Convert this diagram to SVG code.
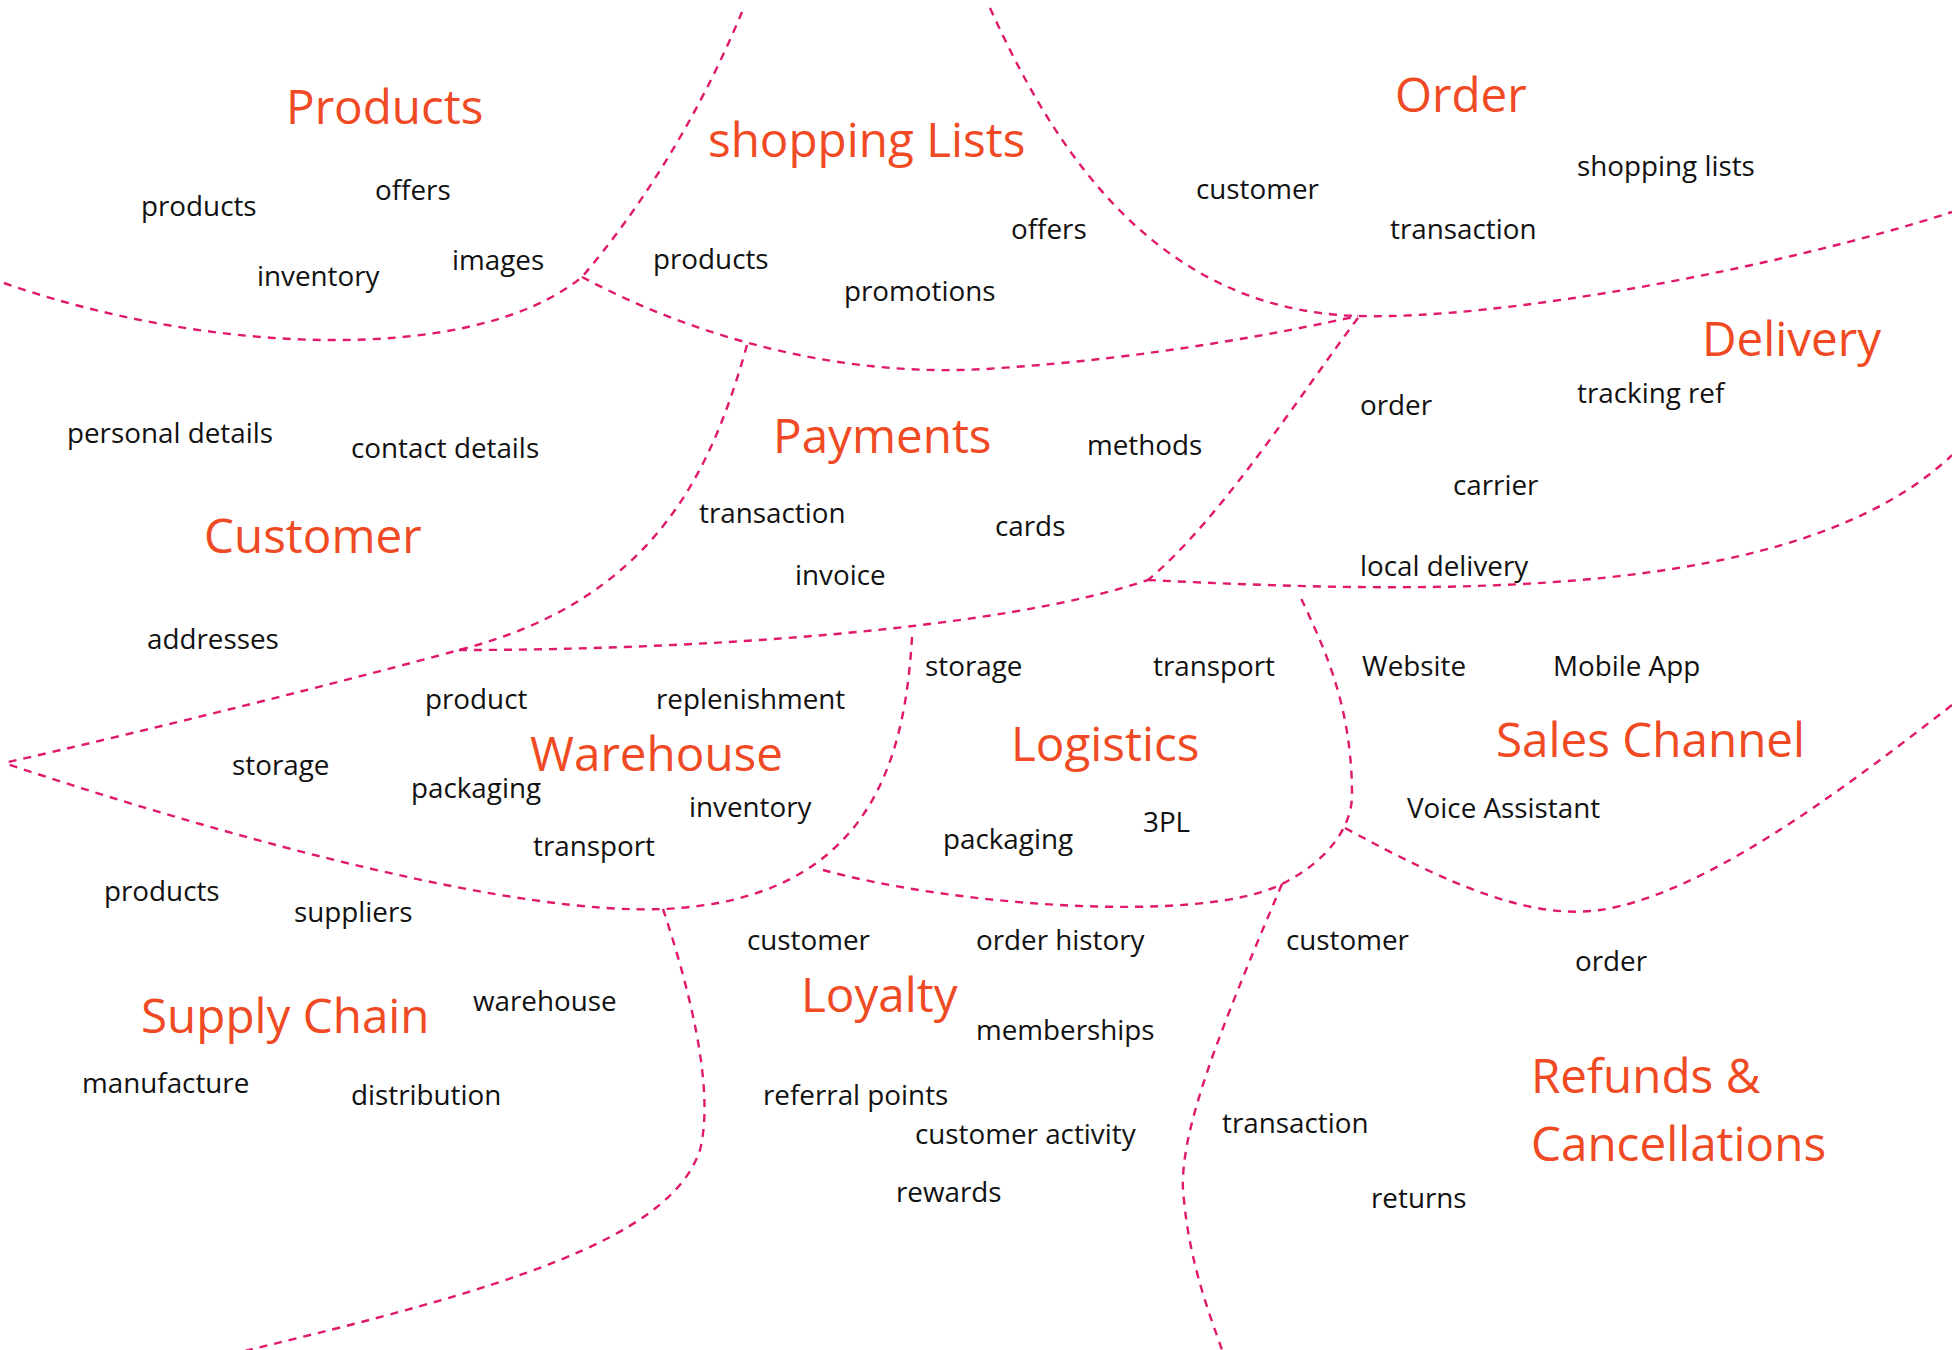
<svg xmlns="http://www.w3.org/2000/svg" width="1952" height="1350" viewBox="0 0 1952 1350">
<style>
.bg{fill:#ffffff}
.t{font-family:"Open Sans","Noto Sans","Liberation Sans",sans-serif;font-size:47.6px;fill:#EF4A23}
.i{font-family:"Open Sans","Noto Sans","Liberation Sans",sans-serif;font-size:27.8px;fill:#111111}
.b{fill:none;stroke:#E0196C;stroke-width:2.4;stroke-dasharray:8 7}
</style>
<rect class="bg" x="0" y="0" width="1952" height="1350"/>
<g id="connectors">
<path class="b" d="M4,283 C200,352 470,368 582,277 C635,215 695,125 742,12"/>
<path class="b" d="M582,277 C700,340 850,380 1000,368 C1150,358 1280,333 1358,316"/>
<path class="b" d="M990,8 C1050,140 1150,310 1358,316 C1500,320 1780,268 1952,212"/>
<path class="b" d="M747,345 C712,470 655,600 459,650 C350,680 150,730 4,763"/>
<path class="b" d="M459,650 C700,650 1000,630 1148,580"/>
<path class="b" d="M1358,318 C1300,395 1220,520 1148,580"/>
<path class="b" d="M1148,580 C1450,595 1800,600 1952,455"/>
<path class="b" d="M912,637 C905,760 870,900 663,909 C520,915 250,845 4,763"/>
<path class="b" d="M823,870 C950,905 1200,925 1282,884 C1330,860 1352,825 1352,795 C1352,700 1320,640 1300,596"/>
<path class="b" d="M1345,828 C1450,885 1530,920 1600,910 C1700,895 1830,800 1952,705"/>
<path class="b" d="M1282,884 C1220,1030 1175,1140 1184,1200 C1190,1265 1210,1315 1222,1350"/>
<path class="b" d="M663,909 C690,990 715,1090 700,1150 C670,1240 500,1290 240,1352"/>
</g>
<g id="products">
<text class="t" x="286" y="124">Products</text>
<text class="i" x="141" y="216">products</text>
<text class="i" x="375" y="200">offers</text>
<text class="i" x="257" y="286">inventory</text>
<text class="i" x="452" y="270">images</text>
</g>
<g id="shopping-lists">
<text class="t" x="708" y="157">shopping Lists</text>
<text class="i" x="653" y="269">products</text>
<text class="i" x="844" y="301">promotions</text>
<text class="i" x="1011" y="239">offers</text>
</g>
<g id="order">
<text class="t" x="1395" y="112">Order</text>
<text class="i" x="1196" y="199">customer</text>
<text class="i" x="1390" y="239">transaction</text>
<text class="i" x="1577" y="176">shopping lists</text>
</g>
<g id="delivery">
<text class="t" x="1702" y="356">Delivery</text>
<text class="i" x="1360" y="415">order</text>
<text class="i" x="1577" y="403">tracking ref</text>
<text class="i" x="1453" y="495">carrier</text>
<text class="i" x="1360" y="576">local delivery</text>
</g>
<g id="payments">
<text class="t" x="773" y="453">Payments</text>
<text class="i" x="1087" y="455">methods</text>
<text class="i" x="699" y="523">transaction</text>
<text class="i" x="995" y="536">cards</text>
<text class="i" x="795" y="585">invoice</text>
</g>
<g id="customer">
<text class="t" x="204" y="553">Customer</text>
<text class="i" x="67" y="443">personal details</text>
<text class="i" x="351" y="458">contact details</text>
<text class="i" x="147" y="649">addresses</text>
</g>
<g id="warehouse">
<text class="t" x="530" y="771">Warehouse</text>
<text class="i" x="425" y="709">product</text>
<text class="i" x="656" y="709">replenishment</text>
<text class="i" x="232" y="775">storage</text>
<text class="i" x="411" y="798">packaging</text>
<text class="i" x="689" y="817">inventory</text>
<text class="i" x="533" y="856">transport</text>
</g>
<g id="logistics">
<text class="t" x="1011" y="761">Logistics</text>
<text class="i" x="925" y="676">storage</text>
<text class="i" x="1153" y="676">transport</text>
<text class="i" x="943" y="849">packaging</text>
<text class="i" x="1143" y="832">3PL</text>
</g>
<g id="sales-channel">
<text class="t" x="1496" y="757">Sales Channel</text>
<text class="i" x="1362" y="676">Website</text>
<text class="i" x="1553" y="676">Mobile App</text>
<text class="i" x="1407" y="818">Voice Assistant</text>
</g>
<g id="supply-chain">
<text class="t" x="141" y="1033">Supply Chain</text>
<text class="i" x="104" y="901">products</text>
<text class="i" x="294" y="922">suppliers</text>
<text class="i" x="473" y="1011">warehouse</text>
<text class="i" x="82" y="1093">manufacture</text>
<text class="i" x="351" y="1105">distribution</text>
</g>
<g id="loyalty">
<text class="t" x="801" y="1012">Loyalty</text>
<text class="i" x="747" y="950">customer</text>
<text class="i" x="976" y="950">order history</text>
<text class="i" x="976" y="1040">memberships</text>
<text class="i" x="763" y="1105">referral points</text>
<text class="i" x="915" y="1144">customer activity</text>
<text class="i" x="896" y="1202">rewards</text>
</g>
<g id="refunds-cancellations">
<text class="t" x="1531" y="1093">Refunds &amp;</text>
<text class="t" x="1531" y="1161">Cancellations</text>
<text class="i" x="1286" y="950">customer</text>
<text class="i" x="1575" y="971">order</text>
<text class="i" x="1222" y="1133">transaction</text>
<text class="i" x="1371" y="1208">returns</text>
</g>
</svg>
